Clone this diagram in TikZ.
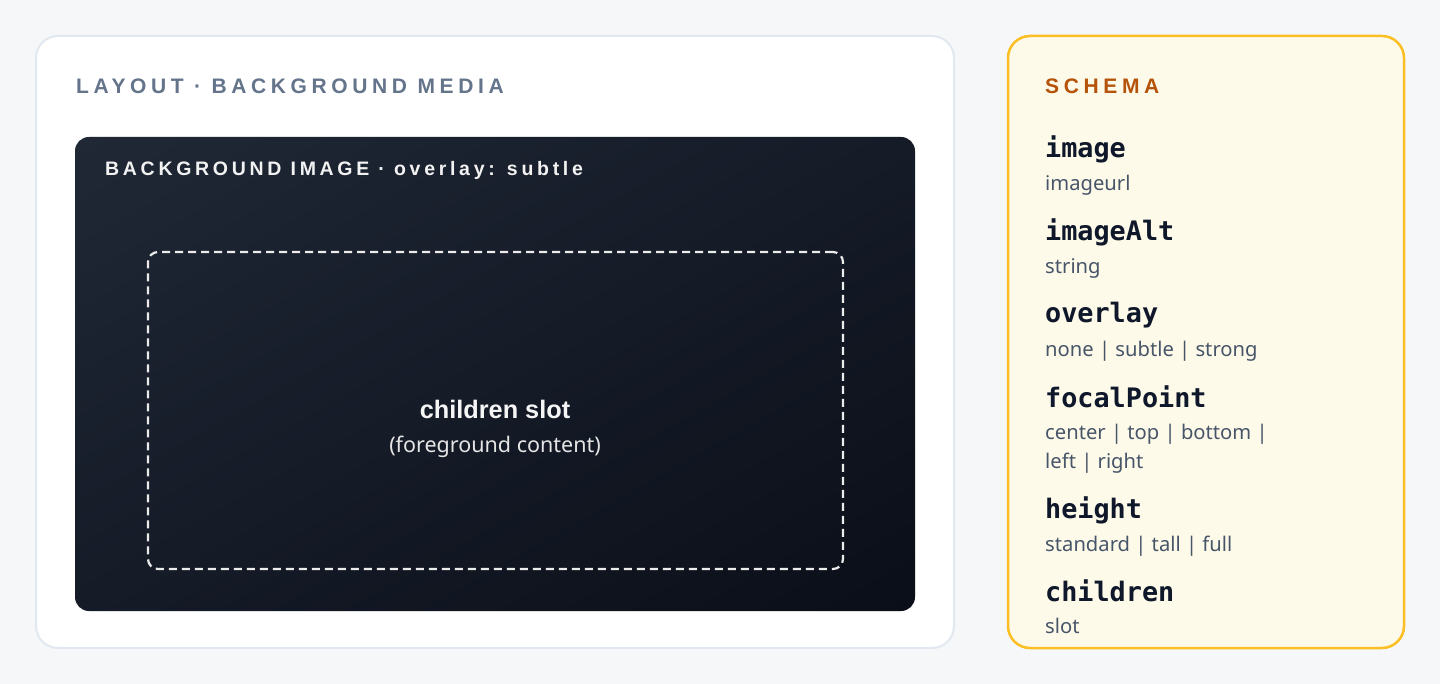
\documentclass[tikz,border=0pt]{standalone}
\usepackage{fontspec}
\usetikzlibrary{shadings}
\setmainfont{Noto Sans}
\newfontfamily\trackfont[LetterSpace=22]{Liberation Sans}
\newfontfamily\mediafont[LetterSpace=19]{Liberation Sans}
\newfontfamily\slotfont{Liberation Sans}
\newfontfamily\codefont{DejaVu Sans Mono}
\definecolor{pagebg}{HTML}{F6F7F9}
\definecolor{cardline}{HTML}{E2E8F0}
\definecolor{slatetitle}{HTML}{64748B}
\definecolor{darkA}{HTML}{202836}
\definecolor{darkB}{HTML}{151B27}
\definecolor{darkC}{HTML}{0A0E18}
\definecolor{amberbg}{HTML}{FEFAE9}
\definecolor{amberline}{HTML}{FBBF24}
\definecolor{ambertext}{HTML}{B45309}
\definecolor{inktext}{HTML}{0F172A}
\definecolor{valtext}{HTML}{475569}
\begin{document}
\begin{tikzpicture}[x=1pt,y=-1pt,
	card/.style={draw=cardline,line width=2pt,fill=white,rounded corners=22pt},
	schemacard/.style={draw=amberline,line width=2.5pt,fill=amberbg,rounded corners=22pt},
	mediabox/.style={rounded corners=14pt,upper left=darkA,upper right=darkB,lower left=darkB,lower right=darkC},
	slotbox/.style={draw=white!92!black,line width=2.2pt,dash pattern=on 8pt off 5pt,rounded corners=10pt},
	tracked/.style={font=\trackfont\bfseries\fontsize{21}{24}\selectfont,anchor=base west,inner sep=0pt},
	propname/.style={font=\codefont\bfseries\fontsize{26.8}{30}\selectfont,text=inktext,anchor=base west,inner sep=0pt},
	propval/.style={font=\fontsize{20.2}{28.5}\selectfont,text=valtext,anchor=base west,inner sep=0pt,align=left}]
	\fill[pagebg] (0,0) rectangle (1440,684);
	\useasboundingbox (0,0) rectangle (1440,684);
	\node[card,minimum width=918pt,minimum height=612pt] (layout) at (495,342) {};
	\node[schemacard,minimum width=396pt,minimum height=612pt] (schema) at (1206,342) {};
	\node[mediabox,shade,minimum width=840pt,minimum height=474pt] (media) at (495,374) {};
	\node[slotbox,minimum width=695pt,minimum height=317pt] (slot) at (495.5,410.5) {};
	\node[tracked,text=slatetitle] (layout-title) at (76,94) {LAYOUT · BACKGROUND MEDIA};
	\node[tracked,text=white!95!black,font=\mediafont\bfseries\fontsize{19.5}{24}\selectfont] (media-title) at (105,176) {BACKGROUND IMAGE · overlay: subtle};
	\node[tracked,text=ambertext] (schema-title) at (1045,94) {SCHEMA};
	\node[font=\slotfont\bfseries\fontsize{25.3}{28}\selectfont,text=white!96!black,anchor=base,inner sep=0pt] (slot-name) at (495,418) {children slot};
	\node[font=\fontsize{21.5}{24}\selectfont,text=white!90!black,anchor=base,inner sep=0pt] (slot-note) at (495,452) {(foreground content)};
	\foreach \nm/\val/\yb/\yv [count=\k] in {image/imageurl/158/191,imageAlt/string/241/274,overlay/{none | subtle | strong}/323/356,
		focalPoint/{center | top | bottom |\\left | right}/407/468,height/{standard | tall | full}/518/551,children/slot/601/633}{
		\node[propname] (name-\k) at (1045,\yb) {\nm};
		\node[propval] (val-\k) at (1045,\yv) {\val};
	}
\end{tikzpicture}
\end{document}
